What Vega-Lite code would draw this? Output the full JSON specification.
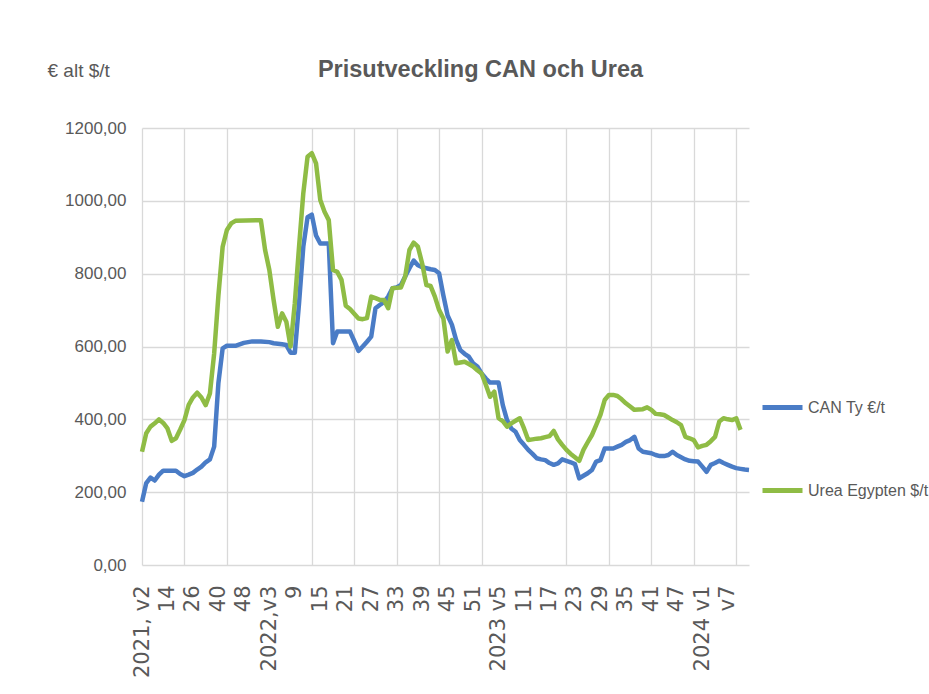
{
  "$schema": "https://vega.github.io/schema/vega-lite/v6.json",
  "width": 607,
  "height": 437,
  "autosize": "none",
  "padding": {"left": 142, "top": 128, "right": 180, "bottom": 129},
  "background": "white",
  "title": {"text": "Prisutveckling CAN och Urea", "anchor": "middle", "frame": "group", "dx": 35, "offset": 0, "dy": 20, "font": "Liberation Sans", "fontSize": 23.5, "fontWeight": "bold", "color": "#595959"},
  "datasets": {
    "can": [
      {"i":0,"v":174},{"i":1,"v":225},{"i":2,"v":240},{"i":3,"v":232},{"i":4,"v":248},{"i":5,"v":259},{"i":6,"v":259},{"i":7,"v":259},{"i":8,"v":259},{"i":9,"v":250},{"i":10,"v":244},{"i":11,"v":248},{"i":12,"v":253},{"i":13,"v":262},{"i":14,"v":270},{"i":15,"v":282},{"i":16,"v":290},{"i":17,"v":325},{"i":18,"v":500},{"i":19,"v":595},{"i":20,"v":602},{"i":22,"v":602},{"i":24,"v":610},{"i":26,"v":614},{"i":28,"v":614},{"i":30,"v":612},{"i":31,"v":609},{"i":33,"v":606},{"i":34,"v":604},{"i":35,"v":583},{"i":36,"v":583},{"i":37,"v":719},{"i":38,"v":874},{"i":39,"v":955},{"i":40,"v":962},{"i":41,"v":905},{"i":42,"v":883},{"i":44,"v":883},{"i":45,"v":609},{"i":46,"v":641},{"i":49,"v":641},{"i":50,"v":615},{"i":51,"v":588},{"i":52,"v":600},{"i":53,"v":613},{"i":54,"v":627},{"i":55,"v":705},{"i":56,"v":714},{"i":57,"v":722},{"i":58,"v":737},{"i":59,"v":760},{"i":60,"v":762},{"i":61,"v":769},{"i":62,"v":792},{"i":63,"v":815},{"i":64,"v":836},{"i":65,"v":823},{"i":66,"v":818},{"i":67,"v":815},{"i":68,"v":812},{"i":69,"v":810},{"i":70,"v":801},{"i":71,"v":740},{"i":72,"v":685},{"i":73,"v":660},{"i":74,"v":618},{"i":75,"v":590},{"i":76,"v":580},{"i":77,"v":572},{"i":78,"v":554},{"i":79,"v":545},{"i":80,"v":526},{"i":81,"v":512},{"i":82,"v":501},{"i":84,"v":501},{"i":85,"v":439},{"i":86,"v":398},{"i":87,"v":375},{"i":88,"v":366},{"i":89,"v":343},{"i":90,"v":330},{"i":91,"v":316},{"i":92,"v":305},{"i":93,"v":293},{"i":94,"v":290},{"i":95,"v":288},{"i":96,"v":280},{"i":97,"v":275},{"i":98,"v":279},{"i":99,"v":290},{"i":100,"v":286},{"i":101,"v":282},{"i":102,"v":277},{"i":103,"v":238},{"i":104,"v":245},{"i":105,"v":252},{"i":106,"v":261},{"i":107,"v":284},{"i":108,"v":288},{"i":109,"v":320},{"i":110,"v":320},{"i":111,"v":320},{"i":112,"v":325},{"i":113,"v":330},{"i":114,"v":338},{"i":115,"v":343},{"i":116,"v":352},{"i":117,"v":320},{"i":118,"v":311},{"i":119,"v":309},{"i":120,"v":307},{"i":121,"v":302},{"i":122,"v":299},{"i":123,"v":299},{"i":124,"v":302},{"i":125,"v":311},{"i":126,"v":302},{"i":127,"v":296},{"i":128,"v":290},{"i":129,"v":286},{"i":130,"v":285},{"i":131,"v":284},{"i":132,"v":270},{"i":133,"v":256},{"i":134,"v":275},{"i":135,"v":280},{"i":136,"v":286},{"i":137,"v":280},{"i":138,"v":275},{"i":139,"v":270},{"i":140,"v":266},{"i":141,"v":264},{"i":142,"v":262},{"i":143,"v":261}
    ],
    "urea": [
      {"i":0,"v":311},{"i":1,"v":362},{"i":2,"v":380},{"i":3,"v":389},{"i":4,"v":400},{"i":5,"v":390},{"i":6,"v":375},{"i":7,"v":341},{"i":8,"v":348},{"i":9,"v":372},{"i":10,"v":398},{"i":11,"v":440},{"i":12,"v":460},{"i":13,"v":473},{"i":14,"v":460},{"i":15,"v":439},{"i":16,"v":471},{"i":17,"v":581},{"i":18,"v":740},{"i":19,"v":874},{"i":20,"v":920},{"i":21,"v":938},{"i":22,"v":945},{"i":28,"v":947},{"i":29,"v":865},{"i":30,"v":810},{"i":31,"v":728},{"i":32,"v":654},{"i":33,"v":691},{"i":34,"v":668},{"i":35,"v":600},{"i":36,"v":719},{"i":37,"v":874},{"i":38,"v":1021},{"i":39,"v":1121},{"i":40,"v":1131},{"i":41,"v":1103},{"i":42,"v":1002},{"i":43,"v":970},{"i":44,"v":947},{"i":45,"v":810},{"i":46,"v":805},{"i":47,"v":783},{"i":48,"v":712},{"i":49,"v":703},{"i":50,"v":690},{"i":51,"v":677},{"i":52,"v":675},{"i":53,"v":678},{"i":54,"v":737},{"i":55,"v":733},{"i":56,"v":728},{"i":57,"v":728},{"i":58,"v":705},{"i":59,"v":760},{"i":60,"v":761},{"i":61,"v":762},{"i":62,"v":792},{"i":63,"v":865},{"i":64,"v":885},{"i":65,"v":874},{"i":66,"v":828},{"i":67,"v":769},{"i":68,"v":766},{"i":69,"v":737},{"i":70,"v":700},{"i":71,"v":677},{"i":72,"v":586},{"i":73,"v":618},{"i":74,"v":554},{"i":75,"v":556},{"i":76,"v":558},{"i":77,"v":552},{"i":78,"v":545},{"i":79,"v":535},{"i":80,"v":526},{"i":81,"v":495},{"i":82,"v":462},{"i":83,"v":476},{"i":84,"v":403},{"i":85,"v":395},{"i":86,"v":380},{"i":87,"v":389},{"i":88,"v":396},{"i":89,"v":403},{"i":90,"v":375},{"i":91,"v":343},{"i":92,"v":345},{"i":93,"v":347},{"i":94,"v":348},{"i":95,"v":351},{"i":96,"v":354},{"i":97,"v":368},{"i":98,"v":345},{"i":99,"v":330},{"i":100,"v":316},{"i":101,"v":305},{"i":102,"v":296},{"i":103,"v":286},{"i":104,"v":316},{"i":105,"v":337},{"i":106,"v":357},{"i":107,"v":384},{"i":108,"v":412},{"i":109,"v":453},{"i":110,"v":467},{"i":111,"v":467},{"i":112,"v":464},{"i":113,"v":455},{"i":114,"v":444},{"i":115,"v":435},{"i":116,"v":426},{"i":117,"v":427},{"i":118,"v":428},{"i":119,"v":433},{"i":120,"v":426},{"i":121,"v":415},{"i":122,"v":414},{"i":123,"v":412},{"i":124,"v":405},{"i":125,"v":398},{"i":126,"v":392},{"i":127,"v":384},{"i":128,"v":352},{"i":129,"v":348},{"i":130,"v":343},{"i":131,"v":323},{"i":132,"v":327},{"i":133,"v":330},{"i":134,"v":340},{"i":135,"v":352},{"i":136,"v":394},{"i":137,"v":403},{"i":138,"v":400},{"i":139,"v":398},{"i":140,"v":403},{"i":141,"v":371}
    ]
  },
  "layer": [
    {
      "data": {"name": "can"},
      "mark": {"type": "line", "strokeWidth": 4.5, "strokeJoin": "round"},
      "encoding": {
        "x": {"field": "i", "type": "quantitative",
          "scale": {"domain": [0, 143], "nice": false, "zero": false},
          "axis": {
            "orient": "bottom",
            "values": [0,6,12,18,24,30,36,42,48,54,60,66,72,78,84,90,96,102,108,114,120,126,132,138],
            "labelExpr": "['2021, v2','14','26','40','48','2022,v3','9','15','21','27','33','39','45','51','2023 v5','11','17','23','29','35','41','47','2024 v1','v7'][round(datum.value / 6)]",
            "labelAngle": -90, "labelFont": "DejaVu Sans", "labelFontSize": 21, "labelColor": "#595959", "labelPadding": 20,
            "labelOverlap": false, "labelBound": false, "labelFlush": false,
            "ticks": false, "domain": false, "title": null, "grid": false
          }
        },
        "y": {"field": "v", "type": "quantitative",
          "scale": {"domain": [0, 1200], "nice": false},
          "axis": {
            "values": [0, 200, 400, 600, 800, 1000, 1200],
            "labelExpr": "replace(format(datum.value, '.2f'), '.', ',')",
            "title": "€ alt $/t", "titleAngle": 0, "titleX": -95, "titleY": -58, "titleAlign": "left", "titleBaseline": "middle",
            "titleFont": "Liberation Sans", "titleFontSize": 19, "titleFontWeight": "normal", "titleColor": "#595959",
            "labelFont": "Liberation Sans", "labelFontSize": 17, "labelColor": "#595959", "labelPadding": 16,
            "ticks": false, "domain": false, "grid": true, "gridColor": "#d9d9d9", "gridWidth": 1.3
          }
        },
        "color": {"datum": "CAN Ty €/t", "type": "nominal",
          "scale": {"domain": ["CAN Ty €/t", "Urea Egypten $/t"], "range": ["#4a7cc6", "#8fbc45"]},
          "legend": {"orient": "none", "legendX": 618, "legendY": 257, "title": null, "symbolType": "stroke", "symbolSize": 1600, "symbolStrokeWidth": 5,
            "labelFont": "Liberation Sans", "labelFontSize": 16, "labelColor": "#595959", "rowPadding": 50, "labelOffset": 3, "padding": 0}
        }
      }
    },
    {
      "data": {"name": "urea"},
      "mark": {"type": "line", "strokeWidth": 4.5, "strokeJoin": "round"},
      "encoding": {
        "x": {"field": "i", "type": "quantitative",
          "axis": {
            "orient": "top",
            "values": [0,10,20,40,50,60,70,80,100,110,120,130,140],
            "labels": false, "ticks": false, "domain": false, "title": null,
            "grid": true, "gridColor": "#d9d9d9", "gridWidth": 1.3
          }
        },
        "y": {"field": "v", "type": "quantitative"},
        "color": {"datum": "Urea Egypten $/t", "type": "nominal"}
      }
    }
  ],
  "resolve": {"axis": {"x": "independent"}},
  "config": {"view": {"stroke": null}}
}
